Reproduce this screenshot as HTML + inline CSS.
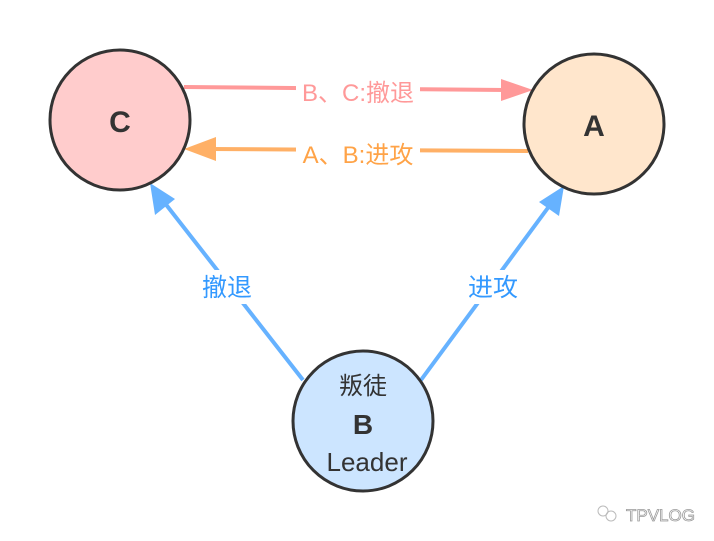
<!DOCTYPE html>
<html><head><meta charset="utf-8"><style>
html,body{margin:0;padding:0;background:#fff;}
svg{display:block;font-family:"Liberation Sans","Noto Sans CJK SC",sans-serif;}
</style></head><body>
<svg width="714" height="541" viewBox="0 0 714 541">
<!-- pink -->
<line x1="184" y1="87" x2="505" y2="90" stroke="#ff9999" stroke-width="4"/>
<polygon points="533,90 501,79 501,101" fill="#ff9999"/>
<!-- orange -->
<line x1="528" y1="151" x2="210" y2="149" stroke="#ffb066" stroke-width="4"/>
<polygon points="184,149 216,137 216,161" fill="#ffb066"/>
<!-- blue -->
<line x1="303" y1="380" x2="164" y2="202" stroke="#66b2ff" stroke-width="4"/>
<polygon points="150,183 155,215 175,199" fill="#66b2ff"/>
<line x1="421" y1="380" x2="550" y2="205" stroke="#66b2ff" stroke-width="4"/>
<polygon points="564,186 539,202 559,216" fill="#66b2ff"/>
<!-- label backgrounds -->
<rect x="296" y="76" width="124" height="32" fill="#fff"/>
<rect x="296" y="137" width="124" height="32" fill="#fff"/>
<rect x="198" y="270" width="58" height="34" fill="#fff"/>
<rect x="464" y="270" width="58" height="34" fill="#fff"/>
<text x="358" y="101" font-size="24" fill="#ff9999" text-anchor="middle">B、C:撤退</text>
<text x="358" y="163" font-size="24" fill="#ffa347" text-anchor="middle">A、B:进攻</text>
<text x="227" y="296" font-size="25" fill="#3399ff" text-anchor="middle">撤退</text>
<text x="493" y="296" font-size="25" fill="#3399ff" text-anchor="middle">进攻</text>
<!-- circles -->
<circle cx="120" cy="120" r="70" fill="#ffcccc" stroke="#333" stroke-width="3"/>
<circle cx="594" cy="124" r="70" fill="#ffe6cc" stroke="#333" stroke-width="3"/>
<circle cx="363" cy="421" r="70" fill="#cce5ff" stroke="#333" stroke-width="3"/>
<text x="120" y="132" font-size="30" font-weight="bold" fill="#333" text-anchor="middle">C</text>
<text x="594" y="136" font-size="30" font-weight="bold" fill="#333" text-anchor="middle">A</text>
<text x="363" y="394" font-size="24" fill="#333" text-anchor="middle">叛徒</text>
<text x="363" y="434" font-size="28" font-weight="bold" fill="#333" text-anchor="middle">B</text>
<text x="367" y="471" font-size="26" fill="#333" text-anchor="middle">Leader</text>
<!-- watermark -->
<g stroke="#bbb" fill="none" stroke-width="1">
<circle cx="603" cy="511" r="5"/><circle cx="611" cy="516" r="5"/>
</g>
<text x="626" y="521" font-size="17" fill="#fff" stroke="#999" stroke-width="0.8">TPVLOG</text>
</svg>
</body></html>
